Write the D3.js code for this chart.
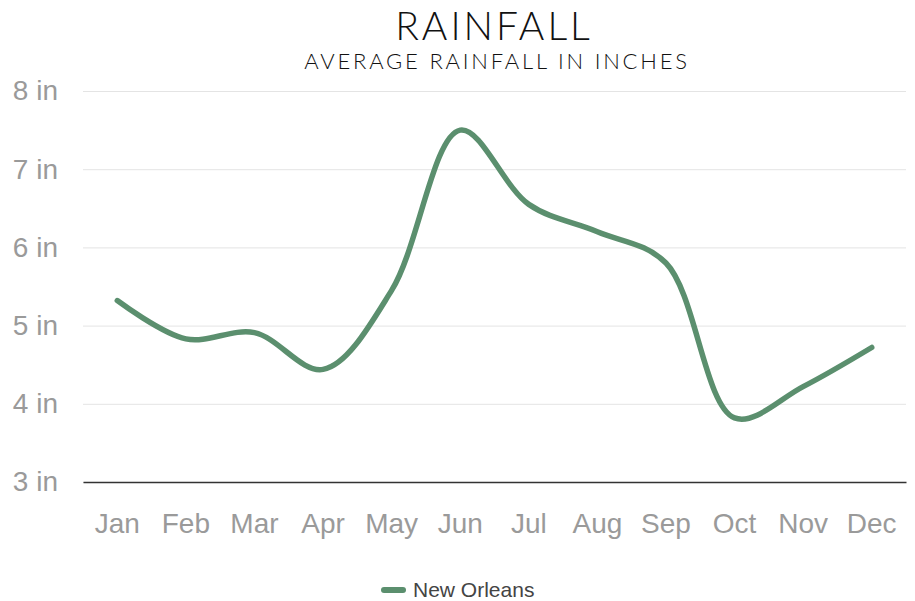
<!DOCTYPE html>
<html>
<head>
<meta charset="utf-8">
<script src="https://cdn.jsdelivr.net/npm/d3@7"></script>
<style>
  body { margin: 0; background: #fff; }
  svg { display: block; }
</style>
</head>
<body>
<div id="chart"></div>
<script>
// monthly average rainfall
var months = ["Jan", "Feb", "Mar", "Apr", "May", "Jun", "Jul", "Aug", "Sep", "Oct", "Nov", "Dec"];
var rainfall = [5.32, 4.83, 4.91, 4.44, 5.45, 7.5, 6.55, 6.2, 5.8, 3.82, 4.22, 4.72];
var yTicks = [3, 4, 5, 6, 7, 8];
var seriesName = "New Orleans";

var width = 915, height = 601;
var margin = {top: 91, right: 9, bottom: 119, left: 83};
var innerW = width - margin.left - margin.right,
    innerH = height - margin.top - margin.bottom;

var svg = d3.select("#chart").append("svg")
    .attr("width", width)
    .attr("height", height);

// titles
svg.append("text")
    .attr("x", 494).attr("y", 40)
    .attr("text-anchor", "middle")
    .style("font-family", "Lato, 'DejaVu Sans', sans-serif")
    .style("font-weight", 300)
    .style("font-size", "39px")
    .style("letter-spacing", "3px")
    .attr("fill", "#111")
    .text("RAINFALL");

svg.append("text")
    .attr("x", 497).attr("y", 69)
    .attr("text-anchor", "middle")
    .style("font-family", "Lato, 'DejaVu Sans', sans-serif")
    .style("font-weight", 300)
    .style("font-size", "22px")
    .style("letter-spacing", "2.8px")
    .attr("fill", "#111")
    .text("AVERAGE RAINFALL IN INCHES");

var g = svg.append("g")
    .attr("transform", "translate(" + margin.left + "," + margin.top + ")");

var x = d3.scaleBand()
    .domain(months)
    .range([0, innerW]);

var y = d3.scaleLinear()
    .domain([3, 8])
    .range([innerH, 0]);

// gridlines
g.append("g")
    .call(d3.axisLeft(y).tickValues(yTicks).tickSize(-innerW).tickFormat(""))
    .call(function(a) {
        a.select(".domain").remove();
        a.selectAll("line").attr("stroke", "#e4e4e4").attr("stroke-width", 1);
    });

// y labels
g.append("g")
    .call(d3.axisLeft(y).tickValues(yTicks).tickSize(0).tickPadding(25)
        .tickFormat(function(d) { return d + " in"; }))
    .call(function(a) {
        a.select(".domain").remove();
        a.selectAll("text")
            .style("font-family", "'Liberation Sans', Arial, sans-serif")
            .style("font-size", "28px")
            .attr("fill", "#9a9a9a");
    });

// x axis
g.append("g")
    .attr("transform", "translate(0," + innerH + ")")
    .call(d3.axisBottom(x).tickSize(0).tickPadding(31))
    .call(function(a) {
        a.select(".domain").attr("stroke", "#333").attr("stroke-width", 1.5);
        a.selectAll("text")
            .style("font-family", "'Liberation Sans', Arial, sans-serif")
            .style("font-size", "28px")
            .attr("fill", "#9a9a9a");
    });

var line = d3.line()
    .x(function(d, i) { return x(months[i]) + x.bandwidth() / 2; })
    .y(function(d) { return y(d); })
    .curve(d3.curveCatmullRom.alpha(0.5));

g.append("path")
    .datum(rainfall)
    .attr("fill", "none")
    .attr("stroke", "#5b8f6e")
    .attr("stroke-width", 5.5)
    .attr("stroke-linecap", "round")
    .attr("stroke-linejoin", "round")
    .attr("d", line);

// legend
var legend = svg.append("g").attr("transform", "translate(382,590)");
legend.append("line")
    .attr("x1", 2).attr("x2", 21)
    .attr("stroke", "#5b8f6e")
    .attr("stroke-width", 6)
    .attr("stroke-linecap", "round");
legend.append("text")
    .attr("x", 31).attr("y", 7)
    .style("font-family", "'Liberation Sans', Arial, sans-serif")
    .style("font-size", "21px")
    .attr("fill", "#444")
    .text(seriesName);
</script>
</body>
</html>
